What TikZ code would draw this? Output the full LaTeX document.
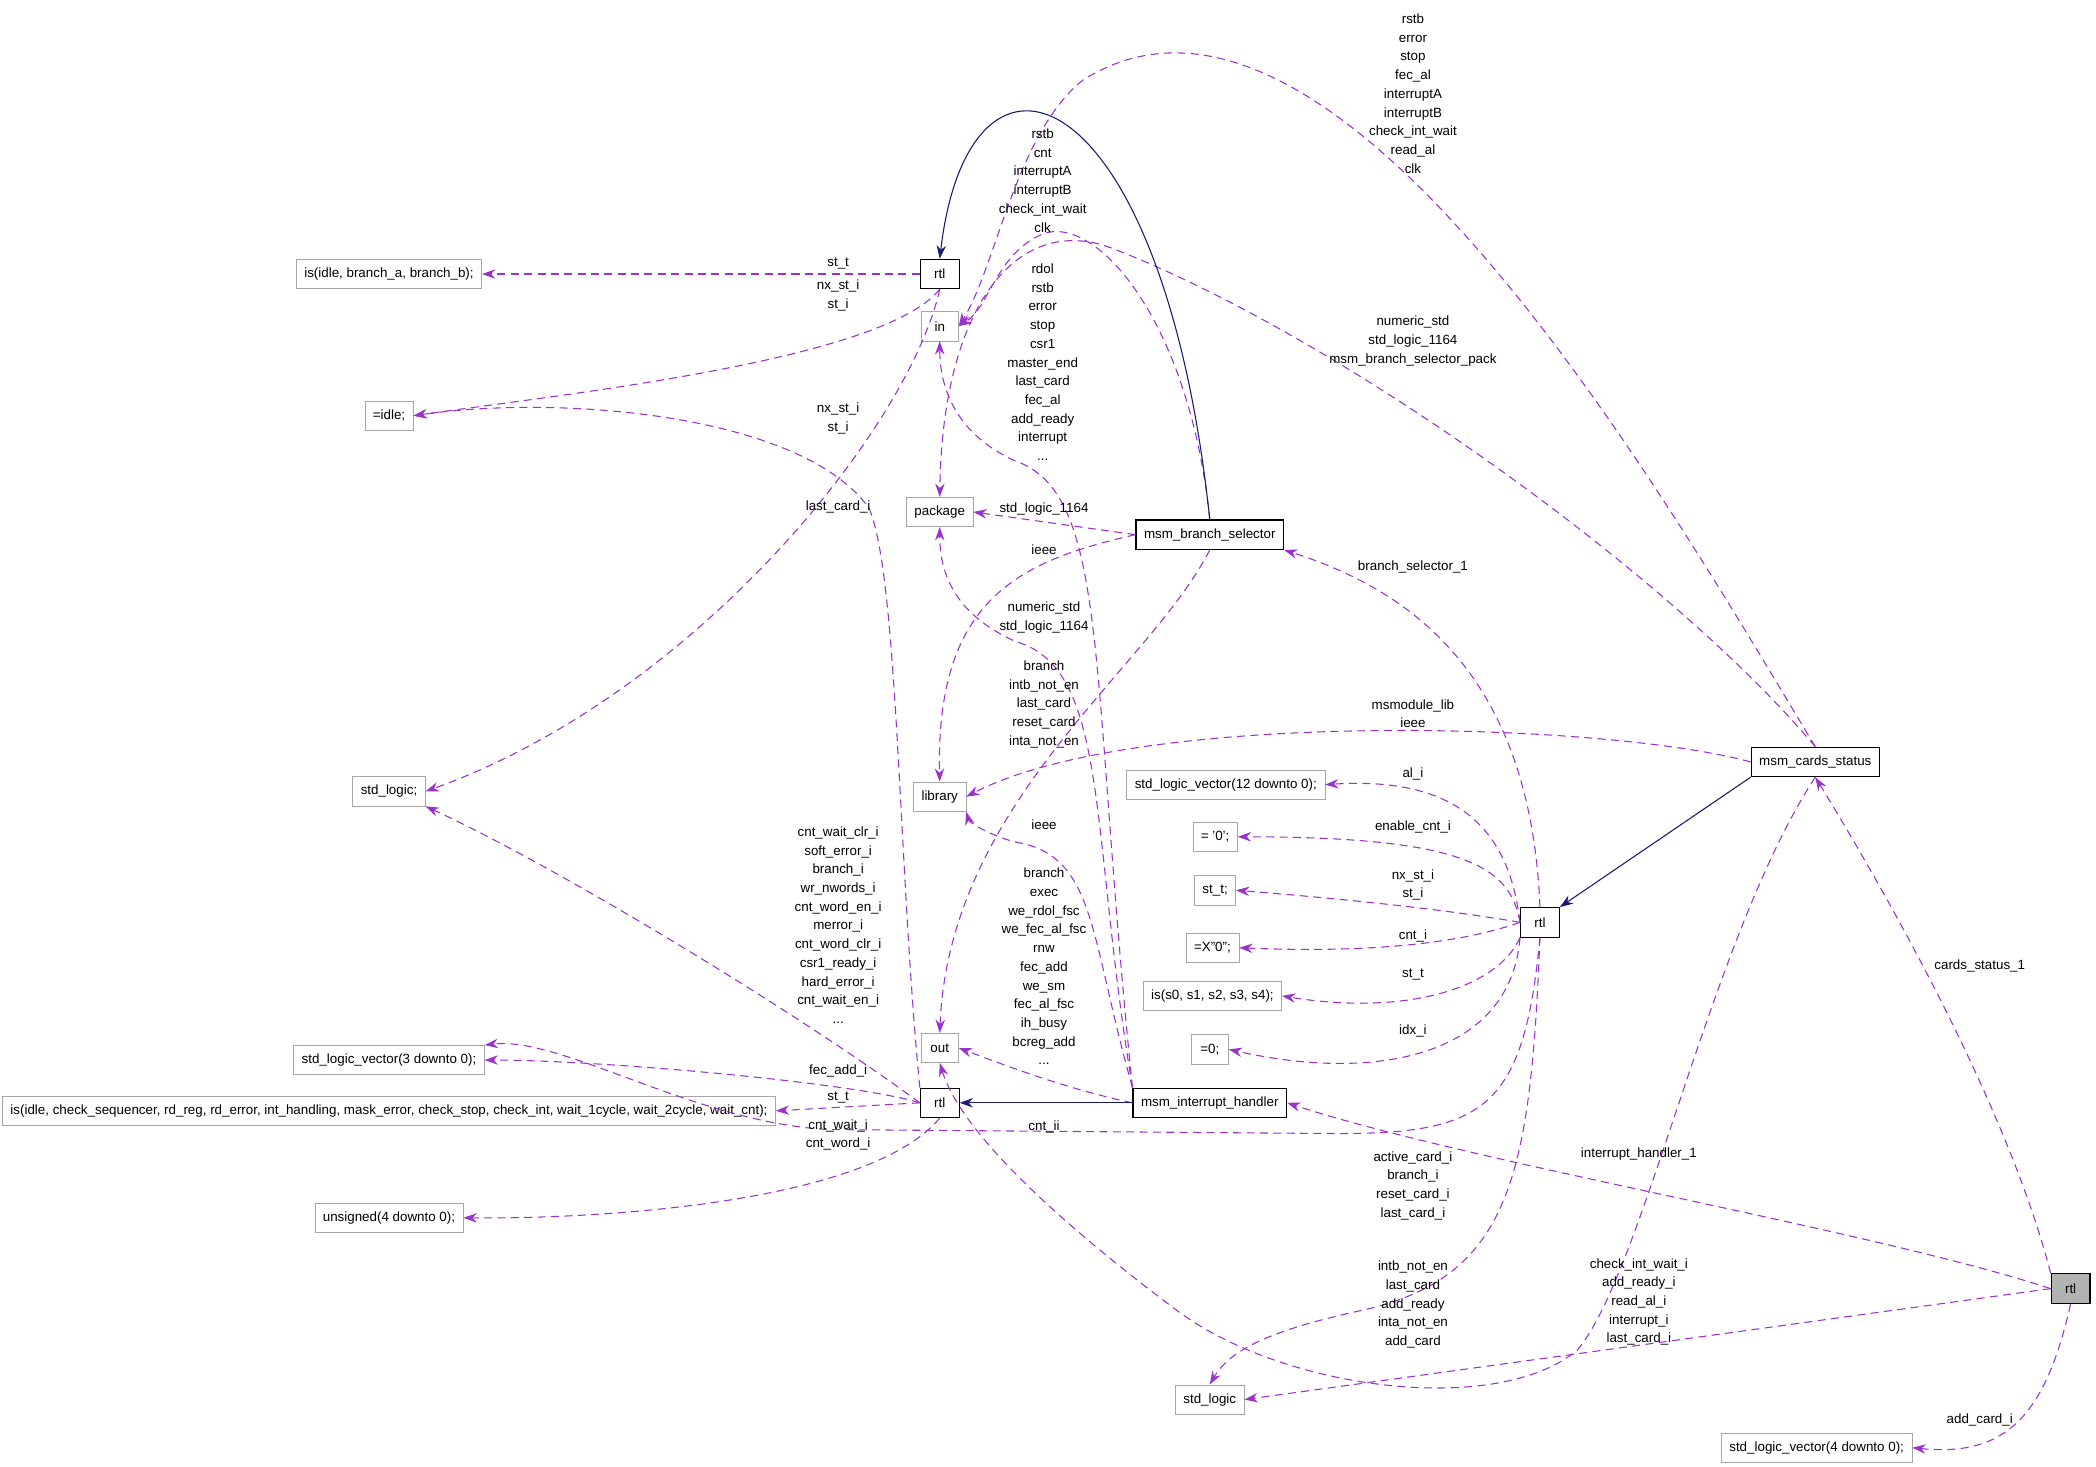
\documentclass[tikz,border=0pt]{standalone}
\usepackage{fontspec}
\setmainfont{Liberation Sans}
\usetikzlibrary{arrows.meta}
\definecolor{dep}{HTML}{9A32CD}
\definecolor{nav}{HTML}{191970}
\begin{document}
\begin{tikzpicture}[x=1pt,y=-1pt,
 every node/.style={font=\fontsize{10}{14}\selectfont},
 gbox/.style={draw=gray!70,fill=white,inner xsep=6pt,inner ysep=4pt,minimum height=22pt,minimum width=28pt},
 bbox/.style={draw=black,thick,fill=white,inner xsep=6pt,inner ysep=4pt,minimum height=22pt,minimum width=29pt},
 lab/.style={align=center,inner sep=0pt},
 dp/.style={dep,dash pattern=on 6pt off 4pt,thick,-{Stealth[length=10pt,width=7pt]}},
 sol/.style={nav,thick,-{Stealth[length=10pt,width=7pt]}}]
\useasboundingbox (0,0) rectangle (1568,1097.4);
% nodes
\node[bbox] (rtlT) at (703,205) {rtl};
\node[gbox] (isb) at (291,205) {is(idle, branch\_a, branch\_b);};
\node[gbox] (in) at (703,244) {in};
\node[gbox] (idle) at (291,311) {=idle;};
\node[gbox] (pkg) at (703,383) {package};
\node[bbox] (bs) at (905,400) {msm\_branch\_selector};
\node[gbox] (slA) at (291,592) {std\_logic;};
\node[gbox] (lib) at (703,596) {library};
\node[bbox] (cs) at (1358,570) {msm\_cards\_status};
\node[gbox] (s12) at (917,587) {std\_logic\_vector(12 downto 0);};
\node[gbox] (z0) at (909,626) {= '0';};
\node[gbox] (stt) at (909,666) {st\_t;};
\node[gbox] (x0) at (907,709) {=X"0";};
\node[gbox] (iss) at (907,745) {is(s0, s1, s2, s3, s4);};
\node[gbox] (e0) at (905,785) {=0;};
\node[bbox] (rtlM) at (1152,690) {rtl};
\node[gbox] (out) at (703,784) {out};
\node[gbox] (s3) at (291,793) {std\_logic\_vector(3 downto 0);};
\node[gbox] (isl) at (291,831) {is(idle, check\_sequencer, rd\_reg, rd\_error, int\_handling, mask\_error, check\_stop, check\_int, wait\_1cycle, wait\_2cycle, wait\_cnt);};
\node[bbox] (rtlL) at (703,825) {rtl};
\node[bbox] (ih) at (905,825) {msm\_interrupt\_handler};
\node[gbox] (uns) at (291,911) {unsigned(4 downto 0);};
\node[draw=black,thick,fill=gray!60,inner xsep=6pt,inner ysep=4pt,minimum height=22pt,minimum width=29pt] (rtlR) at (1549,964) {rtl};
\node[gbox] (slB) at (905,1047) {std\_logic};
\node[gbox] (s4) at (1359,1083) {std\_logic\_vector(4 downto 0);};
% edges
\draw[dp] (rtlT.west) -- (isb.east);
\draw[dp] (rtlT.south) .. controls (660,270) and (420,295) .. (idle.east);
\draw[dp] (rtlL.north west) .. controls (672,650) and (672,430) .. (650,380) .. controls (600,310) and (420,295) .. (idle.east);
\draw[dp] (rtlT.south) .. controls (680,320) and (520,520) .. (slA.east);
\draw[dp] (rtlL.west) .. controls (600,760) and (420,650) .. (slA.south east);
\draw[dp] (rtlL.west) .. controls (640,810) and (450,793) .. (s3.east);
\draw[dp] (rtlL.west) -- (isl.east);
\draw[dp] (rtlL.south) .. controls (650,900) and (450,912) .. (uns.east);
\draw[dp] (bs.north) .. controls (890,240) and (820,160) .. (780,175) .. controls (745,190) and (740,230) .. (in.east);
\draw[dp] (bs.west) -- (pkg.east);
\draw[dp] (bs.west) .. controls (760,420) and (700,450) .. (lib.north);
\draw[dp] (bs.south) .. controls (860,500) and (710,600) .. (out.north);
\draw[dp] (ih.north west) .. controls (815,500) and (830,370) .. (760,345) .. controls (715,325) and (703,290) .. (in.south);
\draw[dp] (ih.north west) .. controls (815,620) and (830,500) .. (760,480) .. controls (715,460) and (703,430) .. (pkg.south);
\draw[dp] (ih.north west) .. controls (815,700) and (820,640) .. (760,630) .. controls (740,625) and (725,615) .. (lib.south east);
\draw[dp] (ih.west) .. controls (800,815) and (760,800) .. (out.east);
\draw[dp] (cs.north) .. controls (1250,380) and (1000,-60) .. (810,60) .. controls (760,100) and (745,200) .. (in.east);
\draw[dp] (cs.north) .. controls (1250,430) and (1000,250) .. (830,185) .. controls (760,160) and (705,230) .. (pkg.north);
\draw[dp] (cs.west) .. controls (1200,540) and (850,530) .. (lib.east);
\draw[dp] (cs.south) .. controls (1280,700) and (1230,950) .. (1180,1010) .. controls (1120,1060) and (960,1040) .. (880,980) .. controls (800,920) and (720,850) .. (out.south);
\draw[dp] (rtlM.north) .. controls (1145,500) and (1050,440) .. (bs.south east);
\draw[dp] (rtlM.west) .. controls (1130,630) and (1100,580) .. (s12.east);
\draw[dp] (rtlM.west) .. controls (1130,650) and (1100,626) .. (z0.east);
\draw[dp] (rtlM.west) .. controls (1080,680) and (1000,672) .. (stt.east);
\draw[dp] (rtlM.west) .. controls (1080,710) and (1000,712) .. (x0.east);
\draw[dp] (rtlM.south west) .. controls (1120,740) and (1050,760) .. (iss.east);
\draw[dp] (rtlM.south west) .. controls (1130,790) and (1030,810) .. (e0.east);
\draw[dp] (rtlM.south) .. controls (1140,830) and (1110,848) .. (1000,848) -- (620,845) .. controls (520,840) and (420,775) .. (s3.north east);
\draw[dp] (rtlM.south) .. controls (1145,880) and (1130,955) .. (1020,980) .. controls (950,995) and (920,1010) .. (slB.north);
\draw[sol] (cs.south west) -- (rtlM.north east);
\draw[dp] (rtlR.north west) .. controls (1500,820) and (1400,650) .. (cs.south);
\draw[dp] (rtlR.west) .. controls (1400,920) and (1100,870) .. (ih.east);
\draw[dp] (rtlR.west) -- (slB.east);
\draw[dp] (rtlR.south) .. controls (1530,1060) and (1500,1090) .. (s4.east);
\draw[sol] (ih.west) -- (rtlL.east);
\draw[sol] (bs.north) .. controls (870,55) and (725,5) .. (rtlT.north);
% labels
\node[lab] at (627,197) {st\_t};
\node[lab] at (627,221) {nx\_st\_i\\st\_i};
\node[lab] at (627,313) {nx\_st\_i\\st\_i};
\node[lab] at (627,379) {last\_card\_i};
\node[lab] at (627,692) {cnt\_wait\_clr\_i\\soft\_error\_i\\branch\_i\\wr\_nwords\_i\\cnt\_word\_en\_i\\merror\_i\\cnt\_word\_clr\_i\\csr1\_ready\_i\\hard\_error\_i\\cnt\_wait\_en\_i\\...};
\node[lab] at (627,801) {fec\_add\_i};
\node[lab] at (627,821) {st\_t};
\node[lab] at (627,849) {cnt\_wait\_i\\cnt\_word\_i};
\node[lab] at (780,135) {rstb\\cnt\\interruptA\\interruptB\\check\_int\_wait\\clk};
\node[lab] at (780,271) {rdol\\rstb\\error\\stop\\csr1\\master\_end\\last\_card\\fec\_al\\add\_ready\\interrupt\\...};
\node[lab] at (781,381) {std\_logic\_1164};
\node[lab] at (781,411) {ieee};
\node[lab] at (781,462) {numeric\_std\\std\_logic\_1164};
\node[lab] at (781,527) {branch\\intb\_not\_en\\last\_card\\reset\_card\\inta\_not\_en};
\node[lab] at (781,617) {ieee};
\node[lab] at (781,723) {branch\\exec\\we\_rdol\_fsc\\we\_fec\_al\_fsc\\rnw\\fec\_add\\we\_sm\\fec\_al\_fsc\\ih\_busy\\bcreg\_add\\...};
\node[lab] at (781,843) {cnt\_ii};
\node[lab] at (1057,70) {rstb\\error\\stop\\fec\_al\\interruptA\\interruptB\\check\_int\_wait\\read\_al\\clk};
\node[lab] at (1057,255) {numeric\_std\\std\_logic\_1164\\msm\_branch\_selector\_pack};
\node[lab] at (1057,424) {branch\_selector\_1};
\node[lab] at (1057,534) {msmodule\_lib\\ieee};
\node[lab] at (1057,579) {al\_i};
\node[lab] at (1057,619) {enable\_cnt\_i};
\node[lab] at (1057,662) {nx\_st\_i\\st\_i};
\node[lab] at (1057,700) {cnt\_i};
\node[lab] at (1057,729) {st\_t};
\node[lab] at (1057,771) {idx\_i};
\node[lab] at (1057,887) {active\_card\_i\\branch\_i\\reset\_card\_i\\last\_card\_i};
\node[lab] at (1057,976) {intb\_not\_en\\last\_card\\add\_ready\\inta\_not\_en\\add\_card};
\node[lab] at (1226,863) {interrupt\_handler\_1};
\node[lab] at (1226,974) {check\_int\_wait\_i\\add\_ready\_i\\read\_al\_i\\interrupt\_i\\last\_card\_i};
\node[lab] at (1481,723) {cards\_status\_1};
\node[lab] at (1481,1062) {add\_card\_i};
\end{tikzpicture}
\end{document}
